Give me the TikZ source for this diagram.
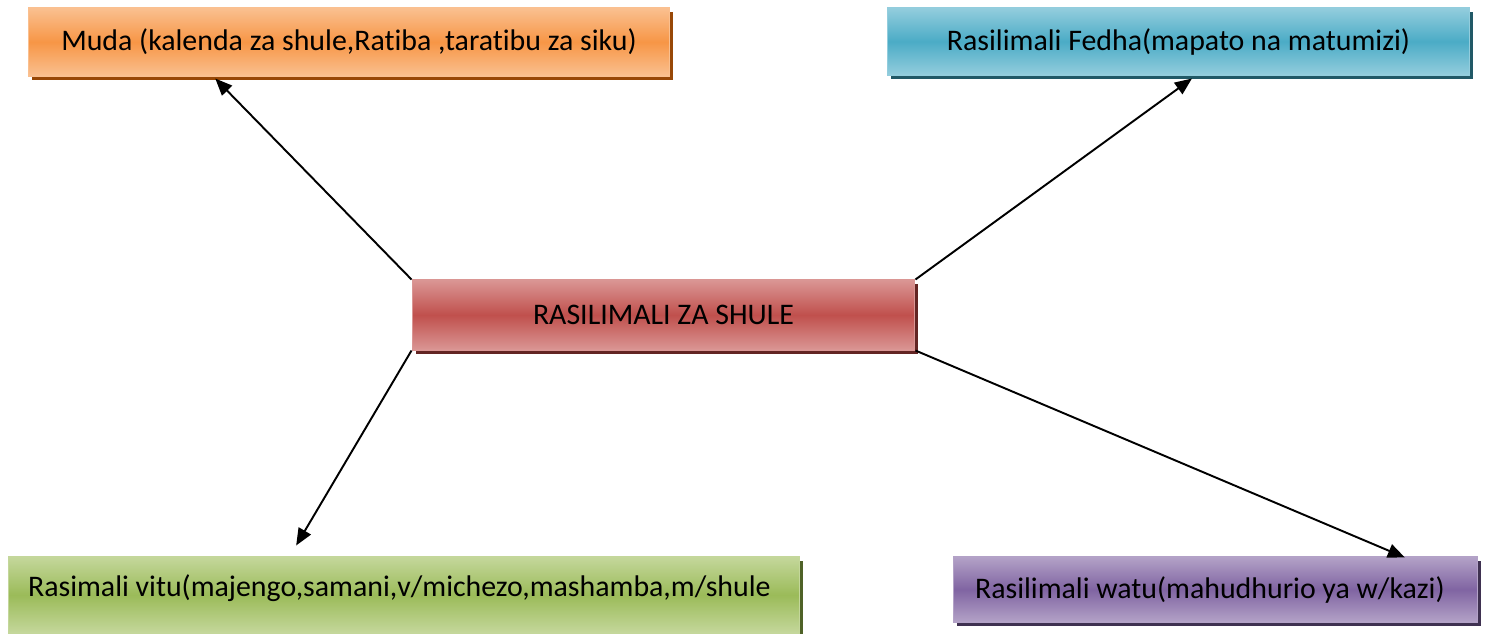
\documentclass[tikz,border=0pt]{standalone}
\usepackage{fontspec}
\setmainfont{Carlito}[Ligatures=NoCommon]
\usetikzlibrary{arrows.meta,shadows,calc}

\definecolor{orangeMid}{HTML}{F79646}
\definecolor{orangeLight}{HTML}{FAC090}
\definecolor{orangeDark}{HTML}{984807}
\definecolor{blueMid}{HTML}{4BACC6}
\definecolor{blueLight}{HTML}{93CDDD}
\definecolor{blueDark}{HTML}{215967}
\definecolor{redMid}{HTML}{C0504D}
\definecolor{redLight}{HTML}{DA9694}
\definecolor{redDark}{HTML}{632523}
\definecolor{greenMid}{HTML}{9BBB59}
\definecolor{greenLight}{HTML}{C4D79B}
\definecolor{greenDark}{HTML}{4F6228}
\definecolor{purpleMid}{HTML}{8064A2}
\definecolor{purpleLight}{HTML}{B3A2C7}
\definecolor{purpleDark}{HTML}{3F3151}

\begin{document}
\begin{tikzpicture}[
    x=0.02cm, y=-0.02cm,
    every node/.style={font=\fontsize{17}{20}\selectfont},
    box/.style={rectangle, line width=0.6pt, inner sep=0pt, align=center},
    mudabox/.style={box, draw=orangeLight, top color=orangeLight, bottom color=orangeLight, middle color=orangeMid,
        drop shadow={shadow xshift=0.07cm, shadow yshift=-0.08cm, fill=orangeDark, opacity=1},
        minimum width=12.84cm, minimum height=1.36cm},
    fedhabox/.style={box, draw=blueLight, top color=blueLight, bottom color=blueLight, middle color=blueMid,
        drop shadow={shadow xshift=0.07cm, shadow yshift=-0.08cm, fill=blueDark, opacity=1},
        minimum width=11.66cm, minimum height=1.34cm},
    shulebox/.style={box, draw=redLight, top color=redLight, bottom color=redLight, middle color=redMid,
        drop shadow={shadow xshift=0.07cm, shadow yshift=-0.08cm, fill=redDark, opacity=1},
        minimum width=10.06cm, minimum height=1.4cm},
    vitubox/.style={box, draw=greenLight, top color=greenLight, bottom color=greenLight, middle color=greenMid,
        drop shadow={shadow xshift=0.07cm, shadow yshift=-0.08cm, fill=greenDark, opacity=1},
        minimum width=15.84cm, minimum height=1.52cm, inner xsep=0.4cm, text width=15.04cm, align=flush left, text depth=0.38cm},
    watubox/.style={box, draw=purpleLight, top color=purpleLight, bottom color=purpleLight, middle color=purpleMid,
        drop shadow={shadow xshift=0.07cm, shadow yshift=-0.08cm, fill=purpleDark, opacity=1},
        minimum width=10.5cm, minimum height=1.3cm, inner xsep=0.44cm, text width=9.62cm, align=flush left},
    arrow/.style={line width=1.1pt, -{Triangle[length=0.34cm, width=0.28cm]}}
]
\useasboundingbox (0,0) rectangle (1499,633);

% VISANDUKU
\node[mudabox] (muda) at (349,42) {Muda (kalenda za shule,Ratiba ,taratibu za siku)};
\node[fedhabox] (fedha) at (1178.5,41.5) {Rasilimali Fedha(mapato na matumizi)};
\node[shulebox] (shule) at (663.5,315) {RASILIMALI ZA SHULE};
\node[vitubox] (vitu) at (404,595) {Rasimali vitu(majengo,samani,v/michezo,mashamba,m/shule};
\node[watubox] (watu) at (1215.5,589.5) {Rasilimali watu(mahudhurio ya w/kazi)};

% NCHA ZA MISHALE
\coordinate (mudaIn) at ($(muda.south west)!0.292!(muda.south east)+(0,2)$);
\coordinate (fedhaIn) at ($(fedha.south west)!0.523!(fedha.south east)+(0,3)$);
\coordinate (vituIn) at ($(vitu.north west)!0.364!(vitu.north east)+(0,-11)$);
\coordinate (watuIn) at ($(watu.north west)!0.86!(watu.north east)+(0,1)$);

% MISHALE
\draw[arrow] (shule.north west) -- (mudaIn);
\draw[arrow] (shule.north east) -- (fedhaIn);
\draw[arrow] (shule.south west) -- (vituIn);
\draw[arrow] (shule.south east) -- (watuIn);

\end{tikzpicture}
\end{document}
